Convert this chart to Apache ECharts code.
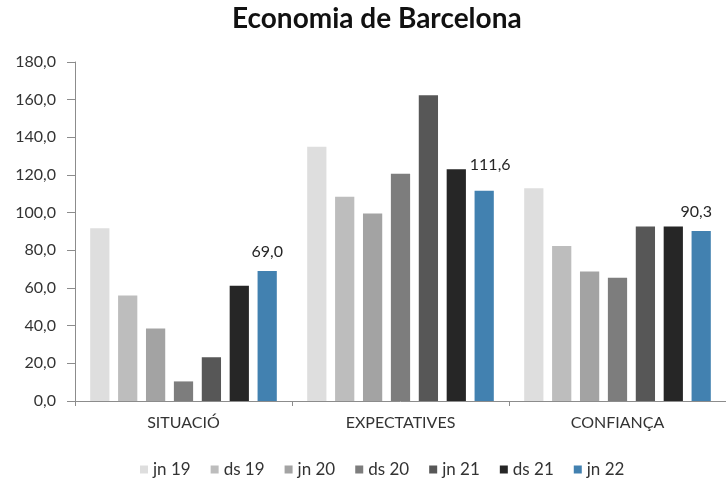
<!DOCTYPE html>
<html>
<head>
<meta charset="utf-8">
<script src="https://cdn.jsdelivr.net/npm/echarts@6/dist/echarts.min.js"></script>
<style>
  html, body { margin: 0; padding: 0; background: #fff; }
  #chart { width: 726px; height: 480px; }
</style>
</head>
<body>
<div id="chart"></div>
<script>
// categories and periods
const categories = ['SITUACIÓ', 'EXPECTATIVES', 'CONFIANÇA'];
const periods = ['jn 19', 'ds 19', 'jn 20', 'ds 20', 'jn 21', 'ds 21', 'jn 22'];

// values per period (SITUACIÓ, EXPECTATIVES, CONFIANÇA)
const jn19 = [91.7, 135.0, 112.9];
const ds19 = [56.0, 108.5, 82.3];
const jn20 = [38.5, 99.5, 68.7];
const ds20 = [10.4, 120.6, 65.5];
const jn21 = [23.2, 162.3, 92.6];
const ds21 = [61.2, 123.0, 92.6];
const jn22 = [69.0, 111.6, 90.3];

const periodValues = [jn19, ds19, jn20, ds20, jn21, ds21, jn22];
const colors = ['#dedede', '#bdbdbd', '#a3a3a3', '#7d7d7d', '#575757', '#262626', '#4281b0'];

const fmt = (v) => v.toFixed(1).replace('.', ',');
const font = 'Lato, "Open Sans", sans-serif';

const chart = echarts.init(document.getElementById('chart'));

const series = periods.map((name, i) => {
  const s = {
    name: name,
    type: 'bar',
    data: periodValues[i],
    itemStyle: { color: colors[i] },
    barGap: '45%',
    barCategoryGap: '14%',
  };
  if (i === periods.length - 1) {
    // only the last period carries data labels (moved a bit like in the original)
    s.data = periodValues[i].map((v, k) => {
      const item = { value: v };
      if (k === 1) item.label = { offset: [6, -7] };
      if (k === 2) item.label = { offset: [-5, 0] };
      return item;
    });
    s.label = {
      show: true,
      position: 'top',
      distance: 11,
      color: '#262626',
      fontFamily: font,
      fontSize: 16,
      formatter: (p) => fmt(p.value),
    };
  }
  return s;
});

chart.setOption({
  animation: false,
  color: colors,
  title: {
    text: 'Economia de Barcelona',
    left: 227,
    top: 0,
    textStyle: { fontFamily: font, fontSize: 28, fontWeight: 'bold', color: '#111' },
  },
  legend: {
    data: periods,
    top: 456,
    left: 135,
    itemWidth: 8,
    itemHeight: 8,
    itemGap: 20,
    icon: 'rect',
    textStyle: { fontFamily: font, fontSize: 17, color: '#333' },
  },
  grid: { left: 75, right: -6, top: 62, bottom: 79 },
  xAxis: {
    type: 'category',
    data: categories,
    axisLine: { lineStyle: { color: '#8c8c8c' } },
    axisTick: { show: true, length: 5, lineStyle: { color: '#8c8c8c' } },
    axisLabel: { fontFamily: font, fontSize: 16, color: '#333', margin: 14 },
  },
  yAxis: {
    type: 'value',
    min: 0,
    max: 180,
    interval: 20,
    axisLine: { show: true, lineStyle: { color: '#8c8c8c' } },
    axisTick: { show: true, length: 8, lineStyle: { color: '#8c8c8c' } },
    splitLine: { show: false },
    axisLabel: { fontFamily: font, fontSize: 16, color: '#333', margin: 19, formatter: fmt },
  },
  series: series,
});
</script>
</body>
</html>
